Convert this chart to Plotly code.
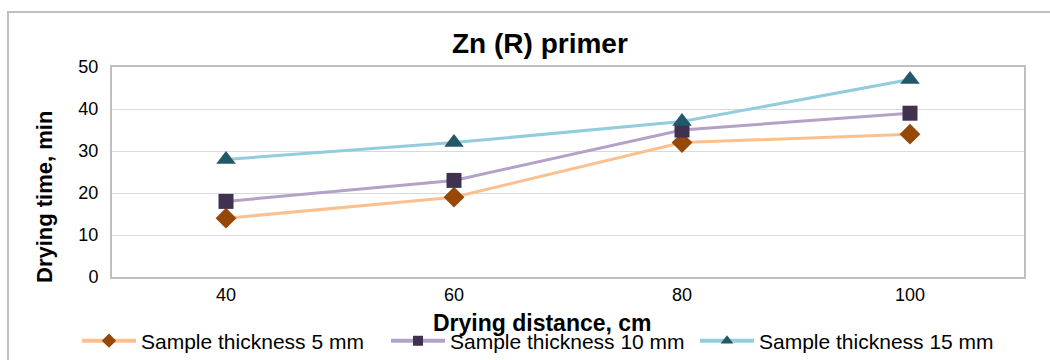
import plotly.graph_objects as go

# Drying distance categories (cm) and drying times (min)
distances = ["40", "60", "80", "100"]
thick_5mm = [14, 19, 32, 34]
thick_10mm = [18, 23, 35, 39]
thick_15mm = [28, 32, 37, 47]

series_names = ["Sample thickness 5 mm", "Sample thickness 10 mm", "Sample thickness 15 mm"]
y_ticks = [0, 10, 20, 30, 40, 50]

FONT = "Liberation Sans, Arial, sans-serif"

styles = [
    dict(line="#FAC090", marker="#974706", symbol="diamond", size=16, leg=11),
    dict(line="#B3A2C7", marker="#403151", symbol="square", size=15, leg=10),
    dict(line="#93CDDD", marker="#215968", symbol="triangle-up", size=17, leg=11),
]

fig = go.Figure()
for name, vals, st in zip(series_names, [thick_5mm, thick_10mm, thick_15mm], styles):
    # plotted series
    fig.add_trace(go.Scatter(
        x=distances, y=vals, name=name, mode="lines+markers", showlegend=False,
        line=dict(color=st["line"], width=3),
        marker=dict(color=st["marker"], symbol=st["symbol"], size=st["size"],
                    line=dict(width=0)),
    ))
    # legend entry with a smaller key marker
    fig.add_trace(go.Scatter(
        x=[None], y=[None], name=name, mode="lines+markers", showlegend=True,
        line=dict(color=st["line"], width=4),
        marker=dict(color=st["marker"], symbol=st["symbol"], size=st["leg"],
                    line=dict(width=0)),
    ))

L, R, T, B = 112, 26, 67, 83
W, H = 1050, 360
pw, ph = W - L - R, H - T - B

def px_x(x):
    return (x - L) / pw

def px_y(y):
    return (H - B - y) / ph

fig.update_layout(
    width=W, height=H,
    margin=dict(l=L, r=R, t=T, b=B, autoexpand=False),
    paper_bgcolor="white", plot_bgcolor="white",
    font=dict(family=FONT, size=15, color="#000000"),
    showlegend=True,
    legend=dict(orientation="h", x=px_x(77), xanchor="left",
                y=px_y(341), yanchor="middle",
                font=dict(size=21), bgcolor="rgba(0,0,0,0)",
                itemwidth=54, tracegroupgap=0,
                entrywidth=240, entrywidthmode="pixels"),
    xaxis=dict(type="category", range=[-0.5, 3.5],
               showline=True, mirror=True, linecolor="#BFBFBF", linewidth=2,
               showgrid=False, ticks="", tickfont=dict(size=18),
               fixedrange=True),
    yaxis=dict(range=[0, 50], tickvals=y_ticks,
               showline=True, mirror=True, linecolor="#BFBFBF", linewidth=2,
               showgrid=True, gridcolor="#D9D9D9", gridwidth=1,
               zeroline=False, ticks="", tickfont=dict(size=18),
               ticklabelstandoff=8),
    shapes=[dict(type="rect", xref="paper", yref="paper",
                 x0=px_x(8), x1=px_x(1056), y0=px_y(366), y1=px_y(12),
                 line=dict(color="#BFBFBF", width=2), layer="below")],
    annotations=[
        dict(text="<b>Zn (R) primer</b>", xref="paper", yref="paper",
             x=px_x(540), y=px_y(44), xanchor="center", yanchor="middle",
             showarrow=False, font=dict(size=28)),
        dict(text="<b>Drying distance, cm</b>", xref="paper", yref="paper",
             x=px_x(542), y=px_y(323), xanchor="center", yanchor="middle",
             showarrow=False, font=dict(size=23)),
        dict(text="<b>Drying time, min</b>", xref="paper", yref="paper",
             x=px_x(44), y=px_y(197), xanchor="center", yanchor="middle",
             showarrow=False, textangle=-90, font=dict(size=22)),
    ],
)

fig.write_html("out.html")
